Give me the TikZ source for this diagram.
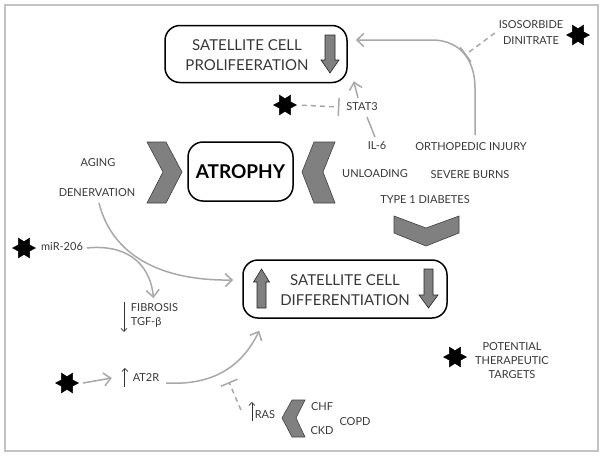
\documentclass[tikz,border=0pt]{standalone}
\usepackage{fontspec}
\setmainfont{Lato}
\usetikzlibrary{shapes.geometric,arrows.meta,calc}

\definecolor{lineGray}{RGB}{168,168,168}
\definecolor{textGray}{RGB}{55,55,55}
\definecolor{chevGray}{RGB}{128,128,128}
\definecolor{frameGray}{RGB}{195,195,195}

\tikzset{
  cellbox/.style={draw=black, line width=1.5pt, rounded corners=15pt, inner sep=0pt},
  bigtxt/.style={text=textGray, font=\fontsize{15}{20}\selectfont, align=center, inner sep=0.75pt},
  lbl/.style={text=textGray, font=\fontsize{11}{14}\selectfont, align=center, inner sep=0.75pt},
  target/.style={star, star points=6, star point ratio=1.8, shape border rotate=90, fill=black, draw=black, inner sep=0pt, minimum size=23pt},
  conn/.style={draw=lineGray, line width=1.5pt, -{Straight Barb[length=7pt,width=13pt]}},
  link/.style={draw=lineGray, line width=1.5pt},
  block/.style={draw=lineGray, line width=1.5pt, dash pattern=on 5pt off 4pt, -{Bar[width=18pt]}},
  updown/.style={draw=black!80, line width=0.7pt, -{Straight Barb[length=3pt,width=6pt]}},
  fatarrow/.style={fill=chevGray, draw=black!85, line width=0.6pt},
  chev/.style={fill=chevGray, draw=black!75, line width=0.6pt}
}

\begin{document}
\begin{tikzpicture}[x=1pt,y=-1pt]
\useasboundingbox (0,0) rectangle (604,456);

%Frame
\draw [frameGray, line width=1.3pt] (5,5) rectangle (598,451);

%Shape: Rounded boxes
\node [cellbox, minimum width=182pt, minimum height=57pt] (prolif) at (256,54) {};
\node [bigtxt] (prolifTxt) at (247,55) {SATELLITE CELL\\PROLIFEERATION};
\node [cellbox, minimum width=105pt, minimum height=59pt, font=\fontsize{19}{22}\selectfont\bfseries] (atrophy) at (240.5,171.5) {ATROPHY};
\node [cellbox, minimum width=204pt, minimum height=58pt] (diff) at (345,289) {};
\node [bigtxt] (diffTxt) at (345,290) {SATELLITE CELL\\DIFFERENTIATION};

%Shape: Arrows in boxes
\draw [fatarrow] (325,35) -- (335,35) -- (335,60) -- (339,60) -- (330,73) -- (321,60) -- (325,60) -- cycle;
\draw [fatarrow] (257,308) -- (266,308) -- (266,282) -- (269.5,282) -- (261.5,269) -- (253.5,282) -- (257,282) -- cycle;
\draw [fatarrow] (424,269) -- (433,269) -- (433,295) -- (438,295) -- (428.5,308) -- (419,295) -- (424,295) -- cycle;

%Shape: Chevrons
\draw [chev] (147,142) -- (166,142) -- (182,172) -- (166,203) -- (147,203) -- (163,172) -- cycle;
\draw [chev] (335,142) -- (314,142) -- (302,172) -- (314,203) -- (335,203) -- (323,172) -- cycle;
\draw [chev] (394,216) -- (426,228) -- (459,216) -- (459,233) -- (426,246) -- (394,233) -- cycle;
\draw [chev] (305,400) -- (292,400) -- (282,418) -- (292,437) -- (305,437) -- (296,418) -- cycle;

% Text Nodes
\node [lbl] (aging) at (98,163) {AGING};
\node [lbl] (denerv) at (97,193) {DENERVATION};
\node [lbl] (il6) at (377,146) {IL-6};
\node [lbl] (ortho) at (471,147) {ORTHOPEDIC INJURY};
\node [lbl] (unload) at (375,174) {UNLOADING};
\node [lbl] (burns) at (470,175) {SEVERE BURNS};
\node [lbl] (diabetes) at (425,200) {TYPE 1 DIABETES};
\node [lbl] (stat3) at (362,107) {STAT3};
\node [lbl, font=\fontsize{11}{16}\selectfont] (iso) at (531,33) {ISOSORBIDE\\DINITRATE};
\node [lbl] (mir) at (62,247) {miR-206};
\node [lbl, align=left, anchor=west] (fibro) at (130,316) {FIBROSIS\\TGF-β};
\node [lbl] (at2r) at (146,378) {AT2R};
\node [lbl] (ras) at (265,415) {RAS};
\node [lbl] (chf) at (322,407) {CHF};
\node [lbl] (ckd) at (322,431) {CKD};
\node [lbl] (copd) at (355,422) {COPD};
\node [lbl] (key) at (512,361) {POTENTIAL\\THERAPEUTIC\\TARGETS};

%Shape: Stars
\node [target] (starIso) at (578,35) {};
\node [target] (starStat) at (285,105) {};
\node [target] (starMir) at (24,248) {};
\node [target] (starAt) at (67,383) {};
\node [target] (starKey) at (455,357) {};

% Connectors
\coordinate (prolifIn) at ($(prolif.east)+(8,-14)$);
\coordinate (isoHit) at (465,55);
\coordinate (rasHit) at (229,382);
\draw [conn] ([xshift=4pt,yshift=7pt]ortho.north) -- (475,88) .. controls (475,60) and (460,40) .. (432,40) -- (prolifIn);
\draw [block] ([xshift=-3pt]iso.west) -- (isoHit);
\draw [block, shorten <=5pt] (starStat.east) -- ([xshift=-6pt]stat3.west);
\draw [link] ([xshift=-2pt,yshift=4pt]il6.north) -- ([xshift=5pt,yshift=-5pt]stat3.south);
\draw [conn] ([xshift=-4pt,yshift=4pt]stat3.north) -- ([xshift=6pt,yshift=2pt]prolif.south east);
\draw [conn] ([xshift=2pt,yshift=-5pt]denerv.south) .. controls (112,255) and (160,281) .. ([xshift=-9pt,yshift=9pt]diff.west);
\draw [conn] ([xshift=3pt,yshift=-1pt]mir.east) .. controls (125,244) and (150,262) .. ([xshift=-1pt,yshift=5pt]fibro.north);
\draw [updown] ([xshift=-6pt,yshift=1pt]fibro.north west) -- ([xshift=-6pt,yshift=-3pt]fibro.south west);
\draw [conn] ([xshift=4pt]starAt.east) -- ([xshift=-20pt]at2r.west);
\draw [updown] ([xshift=-7pt,yshift=-4pt]at2r.south west) -- ([xshift=-7pt,yshift=5pt]at2r.north west);
\draw [conn] ([xshift=6pt,yshift=-5pt]at2r.east) .. controls (220,386) and (245,360) .. ([xshift=17pt,yshift=-12pt]diff.south west);
\draw [block] ([xshift=-13pt,yshift=5pt]ras.west) -- (rasHit);
\draw [updown] ([xshift=-2pt,yshift=-1pt]ras.south west) -- ([xshift=-2pt,yshift=8pt]ras.north west);

\end{tikzpicture}
\end{document}
